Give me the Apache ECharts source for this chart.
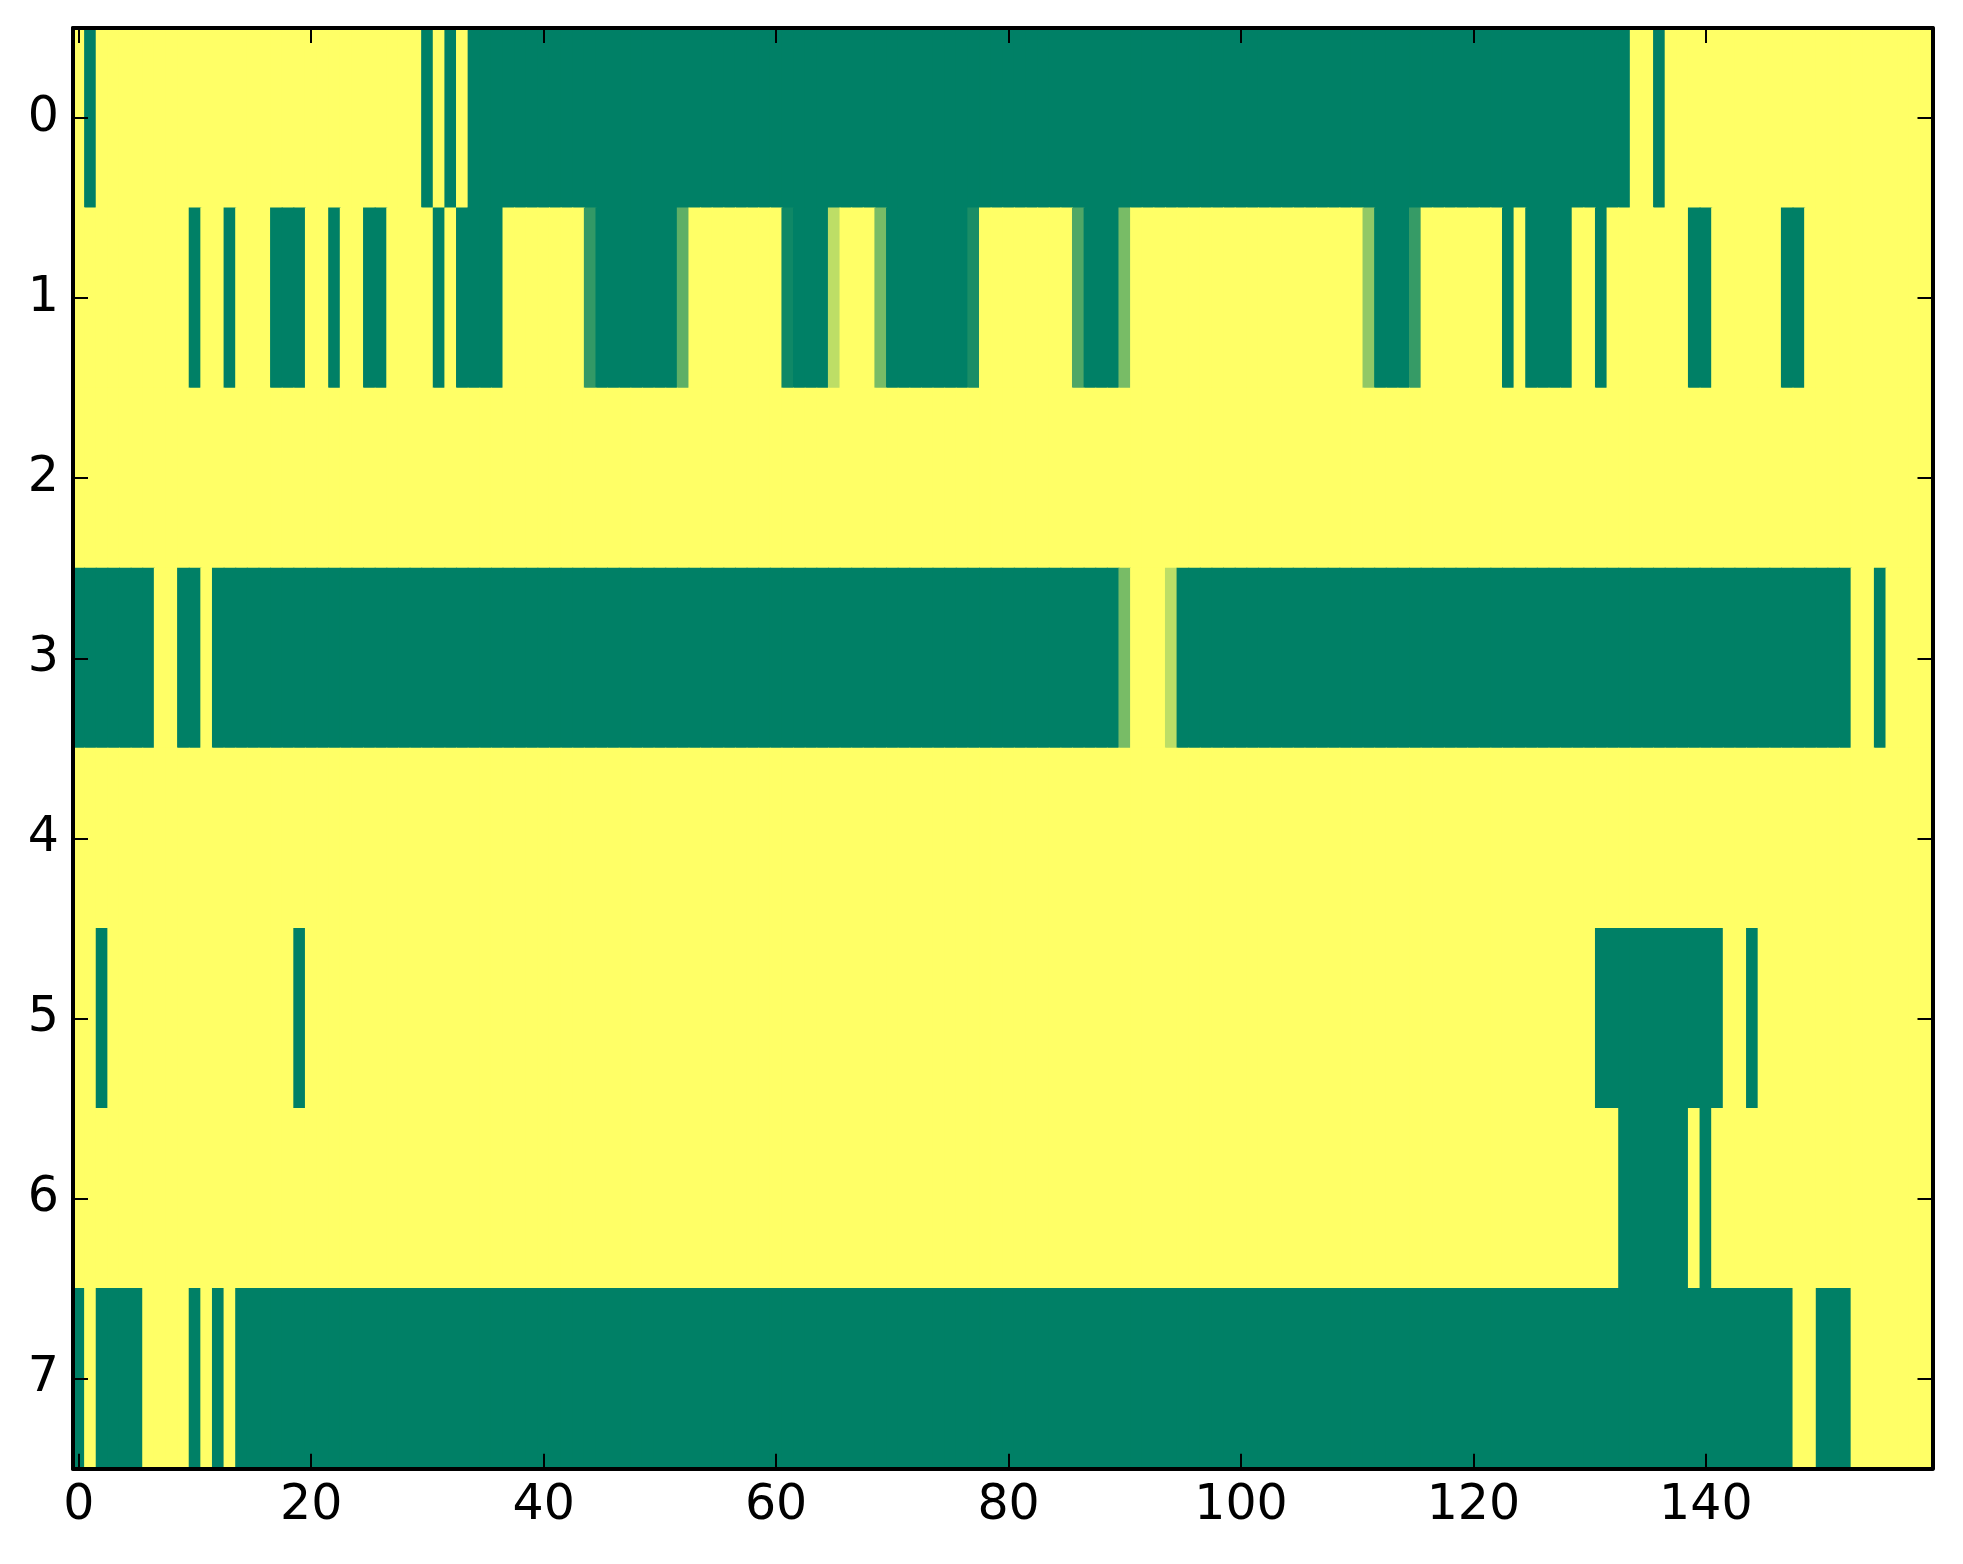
<!DOCTYPE html>
<html><head><meta charset="utf-8">
<script src="https://cdn.jsdelivr.net/npm/echarts@6/dist/echarts.min.js"></script>
<style>html,body{margin:0;padding:0;background:#fff}#chart{width:1963px;height:1564px}</style>
</head><body><div id="chart"></div>
<script>
const xTickLabels = ['0','20','40','60','80','100','120','140'];
const yLabels = ['0','1','2','3','4','5','6','7'];

const row0 = [
1,0,1,1,1,1,1,1,1,1,1,1,1,1,1,1,1,1,1,1,
1,1,1,1,1,1,1,1,1,1,0,1,0,1,0,0,0,0,0,0,
0,0,0,0,0,0,0,0,0,0,0,0,0,0,0,0,0,0,0,0,
0,0,0,0,0,0,0,0,0,0,0,0,0,0,0,0,0,0,0,0,
0,0,0,0,0,0,0,0,0,0,0,0,0,0,0,0,0,0,0,0,
0,0,0,0,0,0,0,0,0,0,0,0,0,0,0,0,0,0,0,0,
0,0,0,0,0,0,0,0,0,0,0,0,0,0,1,1,0,1,1,1,
1,1,1,1,1,1,1,1,1,1,1,1,1,1,1,1,1,1,1,1];
const row1 = [
1,1,1,1,1,1,1,1,1,1,0,1,1,0,1,1,1,0,0,0,
1,1,0,1,1,0,0,1,1,1,1,0,1,0,0,0,0,1,1,1,
1,1,1,1,0.2,0,0,0,0,0,0,0,0.37,1,1,1,1,1,1,1,
1,0.06,0,0,0,0.74,1,1,1,0.47,0,0,0,0,0,0,0,0.1,1,1,
1,1,1,1,1,1,0.31,0,0,0,0.47,1,1,1,1,1,1,1,1,1,
1,1,1,1,1,1,1,1,1,1,1,0.57,0,0,0,0.21,1,1,1,1,
1,1,1,0,1,0,0,0,0,1,1,0,1,1,1,1,1,1,1,0,
0,1,1,1,1,1,1,0,0,1,1,1,1,1,1,1,1,1,1,1];
const row2 = [
1,1,1,1,1,1,1,1,1,1,1,1,1,1,1,1,1,1,1,1,
1,1,1,1,1,1,1,1,1,1,1,1,1,1,1,1,1,1,1,1,
1,1,1,1,1,1,1,1,1,1,1,1,1,1,1,1,1,1,1,1,
1,1,1,1,1,1,1,1,1,1,1,1,1,1,1,1,1,1,1,1,
1,1,1,1,1,1,1,1,1,1,1,1,1,1,1,1,1,1,1,1,
1,1,1,1,1,1,1,1,1,1,1,1,1,1,1,1,1,1,1,1,
1,1,1,1,1,1,1,1,1,1,1,1,1,1,1,1,1,1,1,1,
1,1,1,1,1,1,1,1,1,1,1,1,1,1,1,1,1,1,1,1];
const row3 = [
0,0,0,0,0,0,0,1,1,0,0,1,0,0,0,0,0,0,0,0,
0,0,0,0,0,0,0,0,0,0,0,0,0,0,0,0,0,0,0,0,
0,0,0,0,0,0,0,0,0,0,0,0,0,0,0,0,0,0,0,0,
0,0,0,0,0,0,0,0,0,0,0,0,0,0,0,0,0,0,0,0,
0,0,0,0,0,0,0,0,0,0,0.47,1,1,1,0.74,0,0,0,0,0,
0,0,0,0,0,0,0,0,0,0,0,0,0,0,0,0,0,0,0,0,
0,0,0,0,0,0,0,0,0,0,0,0,0,0,0,0,0,0,0,0,
0,0,0,0,0,0,0,0,0,0,0,0,0,1,1,0,1,1,1,1];
const row4 = [
1,1,1,1,1,1,1,1,1,1,1,1,1,1,1,1,1,1,1,1,
1,1,1,1,1,1,1,1,1,1,1,1,1,1,1,1,1,1,1,1,
1,1,1,1,1,1,1,1,1,1,1,1,1,1,1,1,1,1,1,1,
1,1,1,1,1,1,1,1,1,1,1,1,1,1,1,1,1,1,1,1,
1,1,1,1,1,1,1,1,1,1,1,1,1,1,1,1,1,1,1,1,
1,1,1,1,1,1,1,1,1,1,1,1,1,1,1,1,1,1,1,1,
1,1,1,1,1,1,1,1,1,1,1,1,1,1,1,1,1,1,1,1,
1,1,1,1,1,1,1,1,1,1,1,1,1,1,1,1,1,1,1,1];
const row5 = [
1,1,0,1,1,1,1,1,1,1,1,1,1,1,1,1,1,1,1,0,
1,1,1,1,1,1,1,1,1,1,1,1,1,1,1,1,1,1,1,1,
1,1,1,1,1,1,1,1,1,1,1,1,1,1,1,1,1,1,1,1,
1,1,1,1,1,1,1,1,1,1,1,1,1,1,1,1,1,1,1,1,
1,1,1,1,1,1,1,1,1,1,1,1,1,1,1,1,1,1,1,1,
1,1,1,1,1,1,1,1,1,1,1,1,1,1,1,1,1,1,1,1,
1,1,1,1,1,1,1,1,1,1,1,0,0,0,0,0,0,0,0,0,
0,0,1,1,0,1,1,1,1,1,1,1,1,1,1,1,1,1,1,1];
const row6 = [
1,1,1,1,1,1,1,1,1,1,1,1,1,1,1,1,1,1,1,1,
1,1,1,1,1,1,1,1,1,1,1,1,1,1,1,1,1,1,1,1,
1,1,1,1,1,1,1,1,1,1,1,1,1,1,1,1,1,1,1,1,
1,1,1,1,1,1,1,1,1,1,1,1,1,1,1,1,1,1,1,1,
1,1,1,1,1,1,1,1,1,1,1,1,1,1,1,1,1,1,1,1,
1,1,1,1,1,1,1,1,1,1,1,1,1,1,1,1,1,1,1,1,
1,1,1,1,1,1,1,1,1,1,1,1,1,0,0,0,0,0,0,1,
0,1,1,1,1,1,1,1,1,1,1,1,1,1,1,1,1,1,1,1];
const row7 = [
0,1,0,0,0,0,1,1,1,1,0,1,0,1,0,0,0,0,0,0,
0,0,0,0,0,0,0,0,0,0,0,0,0,0,0,0,0,0,0,0,
0,0,0,0,0,0,0,0,0,0,0,0,0,0,0,0,0,0,0,0,
0,0,0,0,0,0,0,0,0,0,0,0,0,0,0,0,0,0,0,0,
0,0,0,0,0,0,0,0,0,0,0,0,0,0,0,0,0,0,0,0,
0,0,0,0,0,0,0,0,0,0,0,0,0,0,0,0,0,0,0,0,
0,0,0,0,0,0,0,0,0,0,0,0,0,0,0,0,0,0,0,0,
0,0,0,0,0,0,0,0,1,1,0,0,0,1,1,1,1,1,1,1];

const rows = [row0, row1, row2, row3, row4, row5, row6, row7];
const xCategories = row0.map((_, i) => String(i));
const cells = [];
rows.forEach((r, y) => r.forEach((v, x) => cells.push([x, y, v])));

const FONT = 'DejaVu Sans';
const showX = (i) => xTickLabels.includes(String(i));
const lineStyle = { color: '#000', width: 4 };
const tickStyle = { color: '#000', width: 2 };

function xAx(pos, labels) {
  return {
    type: 'category', data: xCategories, position: pos, z: 10,
    axisLine: { show: true, lineStyle },
    axisTick: { show: true, inside: true, length: 15, alignWithLabel: true, interval: (i) => showX(i), lineStyle: tickStyle },
    axisLabel: { show: labels, interval: (i) => showX(i), margin: 13, color: '#000', fontSize: 49, fontFamily: FONT },
    splitLine: { show: false }
  };
}
function yAx(pos, labels) {
  return {
    type: 'category', data: yLabels, inverse: true, position: pos, z: 10,
    axisLine: { show: true, lineStyle },
    axisTick: { show: true, inside: true, length: 15, alignWithLabel: true, lineStyle: tickStyle },
    axisLabel: { show: labels, margin: 14, color: '#000', fontSize: 49, fontFamily: FONT },
    splitLine: { show: false }
  };
}

const chart = echarts.init(document.getElementById('chart'), null, { renderer: 'canvas' });
chart.setOption({
  animation: false,
  backgroundColor: '#fff',
  grid: { left: 73, right: 30.5, top: 28, bottom: 95.3, containLabel: false },
  visualMap: { show: false, min: 0, max: 1, dimension: 2, seriesIndex: 0, inRange: { color: ['#008066', '#ffff66'] } },
  xAxis: [xAx('bottom', true), xAx('top', false)],
  yAxis: [yAx('left', true), yAx('right', false)],
  series: [{
    type: 'custom', data: cells, xAxisIndex: 0, yAxisIndex: 0,
    encode: { x: 0, y: 1 },
    renderItem: function (params, api) {
      const c = api.coord([api.value(0), api.value(1)]);
      const s = api.size([1, 1]);
      return {
        type: 'rect',
        shape: { x: c[0] - s[0] / 2 - 0.5, y: c[1] - s[1] / 2 - 0.5, width: s[0] + 1, height: s[1] + 1 },
        style: { fill: api.visual('color') }
      };
    }
  }]
});
</script>
</body></html>
